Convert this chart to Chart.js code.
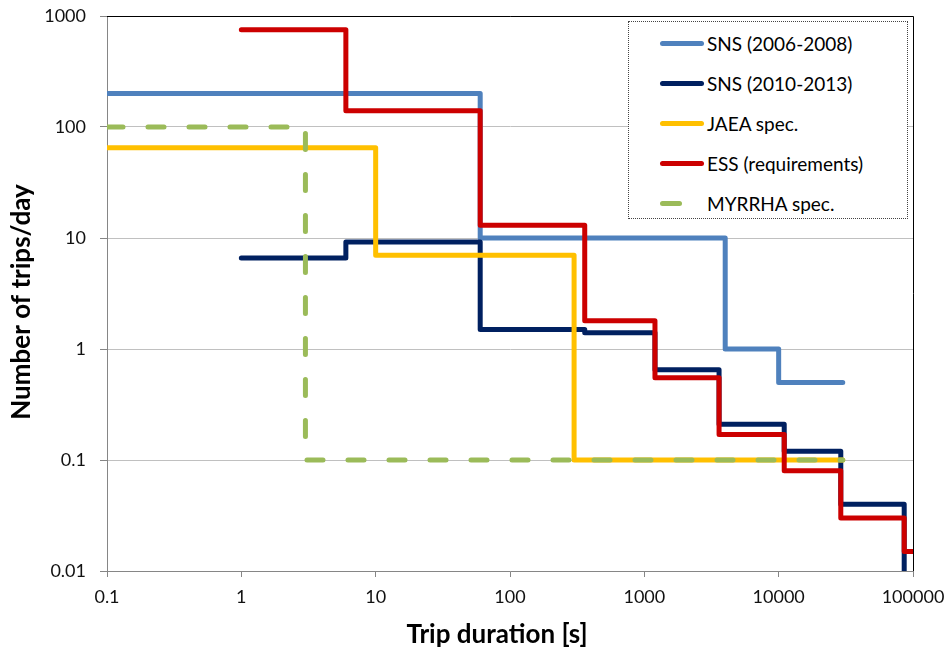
<!DOCTYPE html>
<html>
<head>
<meta charset="utf-8">
<script src="https://cdn.jsdelivr.net/npm/chart.js@4.4.1/dist/chart.umd.min.js"></script>
<style>
    html, body { margin: 0; padding: 0; background: #fff; }
    .wrap { position: relative; width: 949px; height: 653px; font-family: Lato, "Open Sans", sans-serif; }
    .legend-box {
        position: absolute; left: 628px; top: 21px; width: 280px; height: 198px;
        background: #fff; border: 1px dotted #444; box-sizing: border-box;
    }
    .legend-item { position: absolute; left: 31px; height: 24px; display: flex; align-items: center; font-size: 19px; color: #000; }
    .legend-line { width: 44px; height: 5px; border-radius: 3px; margin-right: 3px; }
</style>
</head>
<body>
<div class="wrap">
    <canvas id="tripChart" width="949" height="653"></canvas>
    <div class="legend-box" id="tripLegend"></div>
</div>
<script>
// Valores: duración del corte [s] -> número de cortes/día
const xTicks = [0.1, 1, 10, 100, 1000, 10000, 100000];
const yTicks = [0.01, 0.1, 1, 10, 100, 1000];

const sns0608Dur   = [0.1, 60, 4000, 10000, 30000];
const sns0608Trips = [200, 10, 1, 0.5, 0.5];

const sns1013Dur   = [1, 6, 60, 360, 1200, 3600, 11000, 29000, 86000];
const sns1013Trips = [6.6, 9.2, 1.5, 1.4, 0.65, 0.21, 0.12, 0.04, 0.01];

const jaeaDur   = [0.1, 10, 300, 30000];
const jaeaTrips = [65, 7, 0.1, 0.1];

const essDur   = [1, 6, 60, 360, 1200, 3600, 11000, 29000, 86000, 100000];
const essTrips = [750, 140, 13, 1.8, 0.55, 0.17, 0.08, 0.03, 0.015, 0.015];

const myrrhaDur   = [0.1, 3, 30000];
const myrrhaTrips = [100, 0.1, 0.1];

const seriesLabels = ['SNS (2006-2008)', 'SNS (2010-2013)', 'JAEA spec.', 'ESS (requirements)', 'MYRRHA spec.'];
const xTitle = 'Trip duration [s]';
const yTitle = 'Number of trips/day';

document.addEventListener("DOMContentLoaded", () => {

    const colors = {
        lightBlue: '#4f81bd',
        navy:      '#002060',
        gold:      '#ffc000',
        red:       '#cc0000',
        green:     '#9bbb59',
    };
    const axisColor = '#868686';
    const gridColor = '#c0c0c0';

    const toPoints = (xs, ys) => xs.map((x, i) => ({ x, y: ys[i] }));

    const stepSeries = (label, xs, ys, color, order, dashed) => ({
        label,
        data: toPoints(xs, ys),
        borderColor: color,
        backgroundColor: color,
        borderWidth: 5,
        stepped: 'before',
        pointRadius: 0,
        fill: false,
        borderCapStyle: 'round',
        borderJoinStyle: 'round',
        borderDash: dashed ? [16, 25] : [],
        order,
    });

    // Borde superior y derecho del área (negro, como en Excel) + títulos de ejes
    const frame = {
        id: 'frame',
        afterDatasetsDraw(chart) {
            const { ctx, chartArea: a } = chart;
            ctx.save();
            ctx.strokeStyle = '#000';
            ctx.lineWidth = 1;
            ctx.beginPath();
            ctx.moveTo(a.left, a.top + 0.5);
            ctx.lineTo(a.right + 0.5, a.top + 0.5);
            ctx.lineTo(a.right + 0.5, a.bottom);
            ctx.stroke();

            ctx.fillStyle = '#000';
            ctx.font = 'bold 26px Lato';
            ctx.textAlign = 'center';
            ctx.textBaseline = 'middle';
            ctx.fillText(xTitle, a.left + 390, a.bottom + 64);
            ctx.translate(22, a.top + 286);
            ctx.rotate(-Math.PI / 2);
            ctx.fillText(yTitle, 0, 0);
            ctx.restore();
        }
    };

    const noPad = s => { s.paddingLeft = 0; s.paddingRight = 0; s.paddingTop = 0; s.paddingBottom = 0; };

    const ctx = document.getElementById('tripChart');
    new Chart(ctx, {
        type: 'line',
        data: {
            datasets: [
                stepSeries(seriesLabels[0], sns0608Dur, sns0608Trips, colors.lightBlue, 5, false),
                stepSeries(seriesLabels[1], sns1013Dur, sns1013Trips, colors.navy, 4, false),
                stepSeries(seriesLabels[2], jaeaDur, jaeaTrips, colors.gold, 3, false),
                stepSeries(seriesLabels[3], essDur, essTrips, colors.red, 2, false),
                stepSeries(seriesLabels[4], myrrhaDur, myrrhaTrips, colors.green, 1, true),
            ]
        },
        options: {
            responsive: false,
            animation: false,
            layout: { padding: { top: 16, right: 36, left: 0, bottom: 0 } },
            plugins: {
                legend: { display: false },
                tooltip: { enabled: false }
            },
            scales: {
                x: {
                    type: 'logarithmic',
                    min: 0.1,
                    max: 100000,
                    afterBuildTicks: s => { s.ticks = xTicks.map(v => ({ value: v })); },
                    afterFit: s => { s.height = 82; noPad(s); },
                    grid: { drawOnChartArea: false, drawTicks: true, tickLength: 6, color: axisColor },
                    border: { display: true, color: axisColor },
                    ticks: {
                        color: '#111',
                        font: { family: 'Lato', size: 18 },
                        padding: 9,
                        maxRotation: 0,
                        autoSkip: false,
                        callback: v => String(v)
                    }
                },
                y: {
                    type: 'logarithmic',
                    min: 0.01,
                    max: 1000,
                    afterBuildTicks: s => { s.ticks = yTicks.map(v => ({ value: v })); },
                    afterFit: s => { s.width = 107; noPad(s); },
                    grid: { color: gridColor, tickColor: axisColor, drawTicks: true, tickLength: 7 },
                    border: { display: true, color: axisColor },
                    ticks: {
                        color: '#111',
                        font: { family: 'Lato', size: 18 },
                        padding: 14,
                        autoSkip: false,
                        callback: v => String(v)
                    }
                }
            }
        },
        plugins: [frame]
    });

    // Leyenda
    const legendColors = [colors.lightBlue, colors.navy, colors.gold, colors.red, colors.green];
    const legend = document.getElementById('tripLegend');
    legend.innerHTML = seriesLabels.map((label, i) => `
        <div class="legend-item" style="top:${9 + i * 40}px">
            <span class="legend-line" style="background:${legendColors[i]};${i === 4 ? 'width:22px;margin-right:25px;' : ''}"></span>
            <span>${label}</span>
        </div>
    `).join('');
});
</script>
</body>
</html>
